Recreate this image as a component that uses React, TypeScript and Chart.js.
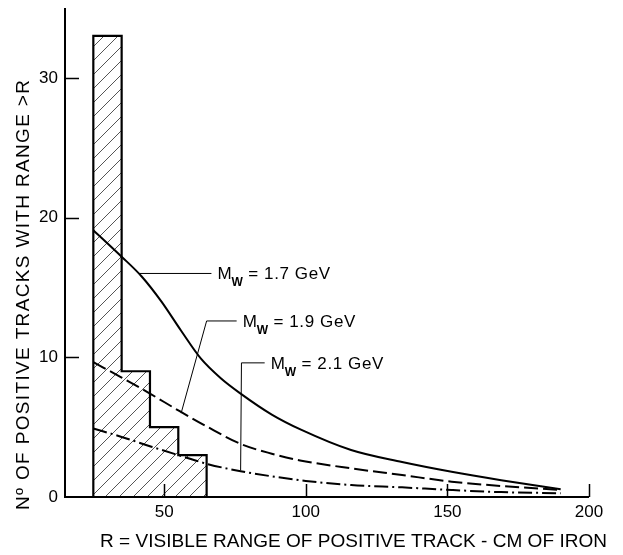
import React, { useEffect, useRef } from 'react';
import { Chart, registerables } from 'chart.js';

Chart.register(...registerables);

// ---- data ----
const binEdges = [25, 35, 45, 55, 65, 75];
const trackCounts = [33, 9, 5, 3, 0];

const mw17X = [25, 35, 42, 49, 56, 63, 70, 77, 88, 98.5, 116, 134, 151.5, 169, 190];
const mw17Y = [19.1, 17.2, 15.8, 14.0, 11.9, 9.9, 8.5, 7.4, 5.9, 4.8, 3.36, 2.5, 1.8, 1.2, 0.55];

const mw19X = [25, 35, 45, 55, 65, 77, 88, 98, 116, 134, 151.5, 169, 190];
const mw19Y = [9.65, 8.55, 7.4, 6.2, 5.05, 3.8, 3.1, 2.62, 2.05, 1.57, 1.1, 0.79, 0.5];

const mw21X = [25, 35, 45.5, 55, 65.5, 77, 100, 116, 134, 151.5, 169, 190];
const mw21Y = [4.9, 4.3, 3.6, 3.0, 2.35, 1.85, 1.15, 0.86, 0.69, 0.5, 0.35, 0.27];

const xTickValues = [50, 100, 150, 200];
const yTickValues = [0, 10, 20, 30];

const xTitle = 'R = VISIBLE RANGE OF POSITIVE TRACK - CM OF IRON';
const yTitle = 'Nº OF POSITIVE TRACKS WITH RANGE >R';

const curveLabels = [
  { sub: 'W', rest: ' = 1.7 GeV', path: [[41, 16.0], [66.7, 16.0]] },
  { sub: 'W', rest: ' = 1.9 GeV', path: [[56, 6.0], [65, 12.6], [75.6, 12.6]] },
  { sub: 'W', rest: ' = 2.1 GeV', path: [[77, 1.9], [77.3, 9.6], [85.5, 9.6]] },
];

const FONT = '"Liberation Sans", Arial, Helvetica, sans-serif';

function toPoints(xs: number[], ys: number[]) {
  return xs.map((x, i) => ({ x, y: ys[i] }));
}

function histogramOutline() {
  const pts: { x: number; y: number }[] = [{ x: binEdges[0], y: 0 }];
  trackCounts.forEach((c, i) => {
    pts.push({ x: binEdges[i], y: c });
    pts.push({ x: binEdges[i + 1], y: c });
  });
  pts.push({ x: binEdges[binEdges.length - 1], y: 0 });
  return pts;
}

function makeHatch() {
  const s = 14;
  const c = document.createElement('canvas');
  c.width = s;
  c.height = s;
  const g = c.getContext('2d')!;
  g.strokeStyle = '#555';
  g.lineWidth = 1;
  g.beginPath();
  g.moveTo(-2, s + 2);
  g.lineTo(s + 2, -2);
  g.moveTo(-2, 2);
  g.lineTo(2, -2);
  g.moveTo(s - 2, s + 2);
  g.lineTo(s + 2, s - 2);
  g.stroke();
  return g.createPattern(c, 'repeat');
}

function drawSpaced(ctx: CanvasRenderingContext2D, text: string, target: number) {
  (ctx as any).letterSpacing = '0px';
  const w = ctx.measureText(text).width;
  const ls = (target - w) / Math.max(text.length - 1, 1);
  (ctx as any).letterSpacing = `${ls}px`;
}

const decorPlugin = {
  id: 'decor',
  afterDatasetsDraw(chart: any) {
    const { ctx, chartArea, scales } = chart;
    const xs = scales.x;
    const ys = scales.y;
    ctx.save();
    ctx.strokeStyle = '#000';
    ctx.fillStyle = '#000';
    // axes
    ctx.lineWidth = 2;
    ctx.beginPath();
    ctx.moveTo(chartArea.left, chartArea.top);
    ctx.lineTo(chartArea.left, chartArea.bottom);
    ctx.lineTo(chartArea.right, chartArea.bottom);
    ctx.stroke();
    // inner ticks
    ctx.lineWidth = 1.5;
    ctx.beginPath();
    yTickValues.filter((v) => v > 0).forEach((v) => {
      const y = Math.round(ys.getPixelForValue(v)) + 0.5;
      ctx.moveTo(chartArea.left, y);
      ctx.lineTo(chartArea.left + 14, y);
    });
    xTickValues.forEach((v) => {
      const x = Math.round(xs.getPixelForValue(v)) + 0.5;
      ctx.moveTo(x, chartArea.bottom);
      ctx.lineTo(x, chartArea.bottom - 13);
    });
    ctx.stroke();

    // curve labels
    ctx.lineWidth = 1;
    curveLabels.forEach((lab) => {
      ctx.beginPath();
      lab.path.forEach(([dx, dy], i) => {
        const px = xs.getPixelForValue(dx);
        const py = ys.getPixelForValue(dy);
        if (i === 0) ctx.moveTo(px, py);
        else ctx.lineTo(px, py);
      });
      ctx.stroke();
      const end = lab.path[lab.path.length - 1];
      let tx = xs.getPixelForValue(end[0]) + 6;
      const base = ys.getPixelForValue(end[1]) + 6;
      ctx.textBaseline = 'alphabetic';
      ctx.textAlign = 'left';
      (ctx as any).letterSpacing = '0px';
      ctx.font = `17px ${FONT}`;
      ctx.fillText('M', tx, base);
      tx += ctx.measureText('M').width;
      ctx.font = `bold 12px ${FONT}`;
      ctx.fillText(lab.sub, tx, base + 7);
      tx += ctx.measureText(lab.sub).width;
      ctx.font = `17px ${FONT}`;
      (ctx as any).letterSpacing = '0.6px';
      ctx.fillText(lab.rest, tx, base);
    });

    // x title
    ctx.font = `19px ${FONT}`;
    ctx.textAlign = 'left';
    ctx.textBaseline = 'alphabetic';
    drawSpaced(ctx, xTitle, 507);
    ctx.fillText(xTitle, 100, 547);

    // y title
    ctx.save();
    ctx.translate(22, 510);
    ctx.rotate(-Math.PI / 2);
    ctx.font = `19px ${FONT}`;
    drawSpaced(ctx, yTitle, 430);
    ctx.fillText(yTitle, 0, 7);
    ctx.restore();

    ctx.restore();
  },
};

export default function App() {
  const ref = useRef<HTMLCanvasElement>(null);
  useEffect(() => {
    if (!ref.current) return;
    const hatch = makeHatch();
    const chart = new Chart(ref.current, {
      type: 'line',
      data: {
        datasets: [
          {
            label: 'MW = 1.7 GeV',
            data: toPoints(mw17X, mw17Y),
            borderColor: '#000',
            borderWidth: 2,
            pointRadius: 0,
            fill: false,
            cubicInterpolationMode: 'monotone',
          },
          {
            label: 'MW = 1.9 GeV',
            data: toPoints(mw19X, mw19Y),
            borderColor: '#000',
            borderWidth: 2,
            borderDash: [14, 5],
            pointRadius: 0,
            fill: false,
            cubicInterpolationMode: 'monotone',
          },
          {
            label: 'MW = 2.1 GeV',
            data: toPoints(mw21X, mw21Y),
            borderColor: '#000',
            borderWidth: 2,
            borderDash: [14, 4, 2, 4],
            pointRadius: 0,
            fill: false,
            cubicInterpolationMode: 'monotone',
          },
          {
            label: 'tracks',
            data: histogramOutline(),
            borderColor: '#000',
            borderWidth: 2.2,
            backgroundColor: hatch as any,
            pointRadius: 0,
            fill: 'origin',
            tension: 0,
          },
        ],
      },
      options: {
        responsive: false,
        animation: false,
        devicePixelRatio: 1,
        events: [],
        layout: { padding: { left: 0, right: 34, top: 8, bottom: 0 } },
        plugins: { legend: { display: false }, tooltip: { enabled: false } },
        scales: {
          x: {
            type: 'linear',
            min: 15,
            max: 200,
            grid: { display: false, drawTicks: false },
            border: { display: false },
            ticks: {
              stepSize: 50,
              includeBounds: false,
              autoSkip: false,
              maxRotation: 0,
              padding: 5,
              color: '#000',
              font: { family: FONT, size: 17 },
              callback: (v: any) => (xTickValues.includes(Number(v)) ? String(v) : ''),
            },
            afterFit: (s: any) => {
              s.height = 58;
              s.paddingLeft = 0;
              s.paddingRight = 0;
            },
          },
          y: {
            type: 'linear',
            min: 0,
            max: 35,
            grid: { display: false, drawTicks: false },
            border: { display: false },
            ticks: {
              stepSize: 10,
              includeBounds: false,
              padding: 7,
              color: '#000',
              font: { family: FONT, size: 17 },
              callback: (v: any) => (yTickValues.includes(Number(v)) ? String(v) : ''),
            },
            afterFit: (s: any) => {
              s.width = 65;
              s.paddingTop = 0;
              s.paddingBottom = 0;
            },
          },
        },
      },
      plugins: [decorPlugin],
    } as any);
    return () => chart.destroy();
  }, []);
  return (
    <div style={{ position: 'absolute', left: 0, top: 0, width: 623, height: 555, background: '#fff' }}>
      <canvas ref={ref} width={623} height={555} style={{ display: 'block' }} />
    </div>
  );
}
